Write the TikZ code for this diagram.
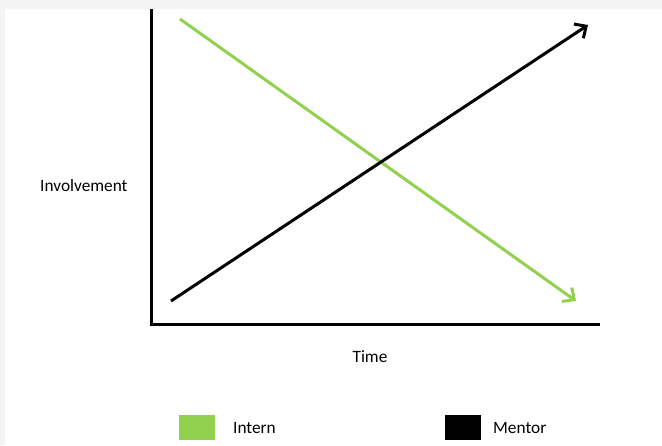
\documentclass[tikz,border=0pt]{standalone}
\usepackage{fontspec}
\setmainfont{Carlito}
\usetikzlibrary{arrows.meta}
\definecolor{interngreen}{HTML}{92D050}
\definecolor{edgegray}{HTML}{F4F4F4}
\begin{document}
\begin{tikzpicture}[x=1pt,y=-1pt,
  axis/.style={line width=3.8pt},
  trend/.style={line width=3pt,-{Straight Barb[length=9pt,width=17pt,line width=3pt]}},
  lbl/.style={font=\fontsize{17.3}{19}\selectfont,inner sep=0pt,anchor=base west},
  legbox/.style={minimum width=36pt,minimum height=25pt,inner sep=0pt,draw=none}
]
\useasboundingbox (0,0) rectangle (662,445);
\fill[white] (0,0) rectangle (662,445);
\fill[edgegray] (0,0) rectangle (662,9);
\fill[edgegray] (0,0) rectangle (5,445);
% axes
\coordinate (ytop) at (151.5,9);
\coordinate (orig) at (151.5,324.5);
\coordinate (xend) at (600,324.5);
\draw[axis,line join=miter] (ytop) -- (orig) -- (xend);
% trend lines
\coordinate (ms) at (171,301);
\coordinate (me) at (588,25);
\coordinate (is) at (180,19);
\coordinate (ie) at (576,301);
\draw[trend,interngreen] (is) -- (ie);
\draw[trend,black] (ms) -- (me);
% labels
\node[lbl] (inv) at (40,191) {Involvement};
\node[lbl,anchor=base] (time) at (370,362) {Time};
% legend
\node[legbox,fill=interngreen] (gbox) at (197,427.5) {};
\node[lbl] (intern) at (233,433) {Intern};
\node[legbox,fill=black] (bbox) at (463,427.5) {};
\node[lbl] (mentor) at (493,433) {Mentor};
\end{tikzpicture}
\end{document}
